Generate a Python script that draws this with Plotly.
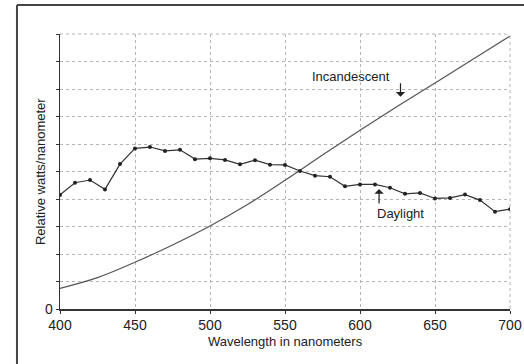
import plotly.graph_objects as go

# Daylight spectral distribution (every 10 nm)
daylight_wl = [400, 410, 420, 430, 440, 450, 460, 470, 480, 490, 500,
               510, 520, 530, 540, 550, 560, 570, 580, 590, 600,
               610, 620, 630, 640, 650, 660, 670, 680, 690, 700]
daylight_val = [4.15, 4.59, 4.69, 4.35, 5.27, 5.84, 5.89, 5.75, 5.79, 5.45, 5.48,
                5.42, 5.26, 5.41, 5.25, 5.24, 5.02, 4.85, 4.81, 4.46, 4.53,
                4.53, 4.41, 4.19, 4.22, 4.02, 4.04, 4.16, 3.96, 3.54, 3.63]

# Incandescent spectral distribution (read every 25 nm)
incand_wl = [400, 425, 450, 475, 500, 525, 550, 575, 600, 625, 650, 675, 700]
incand_val = [0.75, 1.14, 1.70, 2.33, 3.02, 3.80, 4.68, 5.60, 6.50, 7.37, 8.22, 9.07, 9.93]

x_ticks = [400, 450, 500, 550, 600, 650, 700]
y_ticks = list(range(0, 11))
y_ticktext = ["0"] + [""] * 10

FONT = "Liberation Sans, Arial, sans-serif"
TXT = "#222222"
GRID = "#b4b4b4"

fig = go.Figure()
fig.add_trace(go.Scatter(
    x=incand_wl, y=incand_val, mode="lines",
    line=dict(color="#555555", width=1.2, shape="spline", smoothing=1.0),
    showlegend=False, hoverinfo="skip"))
fig.add_trace(go.Scatter(
    x=daylight_wl, y=daylight_val, mode="lines+markers",
    line=dict(color="#333333", width=1.2),
    marker=dict(color="#222222", size=4),
    showlegend=False, hoverinfo="skip"))

fig.update_layout(
    width=524, height=364,
    margin=dict(l=60, r=14, t=34, b=55),
    paper_bgcolor="white", plot_bgcolor="white",
    font=dict(family=FONT, size=13, color=TXT),
    xaxis=dict(range=[400, 700], tickvals=x_ticks, showgrid=True, automargin=False,
               gridcolor=GRID, griddash="dot", gridwidth=1,
               showline=True, linecolor="#333", linewidth=1.5,
               ticks="outside", ticklen=3, tickcolor="#333",
               tickfont=dict(family=FONT, size=14, color=TXT),
               zeroline=False),
    yaxis=dict(range=[0, 10], tickvals=y_ticks, ticktext=y_ticktext, showgrid=True,
               automargin=False,
               gridcolor=GRID, griddash="dot", gridwidth=1,
               showline=True, linecolor="#333", linewidth=1.5,
               ticks="outside", ticklen=3, tickcolor="#333",
               tickfont=dict(family=FONT, size=14, color=TXT),
               zeroline=False),
)

# Axis titles
fig.add_annotation(xref="paper", yref="paper", x=0.5, y=-0.1164,
                   text="Wavelength in nanometers", showarrow=False,
                   xanchor="center", yanchor="middle",
                   font=dict(family=FONT, size=13, color=TXT))
fig.add_annotation(xref="paper", yref="paper", x=-0.0444, y=0.498,
                   text="Relative watts/nanometer", showarrow=False, textangle=-90,
                   xanchor="center", yanchor="middle",
                   font=dict(family=FONT, size=13, color=TXT))

# Right / top dotted border of plot area
fig.add_shape(type="line", xref="paper", yref="paper", x0=1, x1=1, y0=0, y1=1,
              line=dict(color=GRID, width=1, dash="dot"))
fig.add_shape(type="line", xref="paper", yref="paper", x0=0, x1=1, y0=1, y1=1,
              line=dict(color=GRID, width=1, dash="dot"))

# Outer frame (cropped on right and bottom)
fig.add_shape(type="line", xref="paper", yref="paper", x0=-0.0956, x1=1.04, y0=1.1055, y1=1.1055,
              line=dict(color="#444", width=2))
fig.add_shape(type="line", xref="paper", yref="paper", x0=-0.0956, x1=-0.0956, y0=1.1055, y1=-0.21,
              line=dict(color="#444", width=2))

# Incandescent label with arrow pointing down
fig.add_annotation(x=621.3, y=8.45, text="Incandescent", showarrow=False,
                   xanchor="right", yanchor="middle",
                   font=dict(family=FONT, size=13, color=TXT))
fig.add_annotation(x=627, y=7.72, ax=0, ay=-15, text="", showarrow=True,
                   arrowhead=1, arrowsize=1.3, arrowwidth=1.2, arrowcolor=TXT, standoff=0)

# Daylight label with arrow pointing up
fig.add_annotation(x=612.7, y=4.36, ax=0, ay=16, text="", showarrow=True,
                   arrowhead=1, arrowsize=1.3, arrowwidth=1.2, arrowcolor=TXT, standoff=0)
fig.add_annotation(x=610, y=3.49, text="Daylight", showarrow=False,
                   xanchor="left", yanchor="middle",
                   font=dict(family=FONT, size=13, color=TXT))

fig.write_html("out.html",
               config={"displayModeBar": False, "staticPlot": True},
               post_script="document.body.style.margin='0';document.body.style.overflow='hidden';")
